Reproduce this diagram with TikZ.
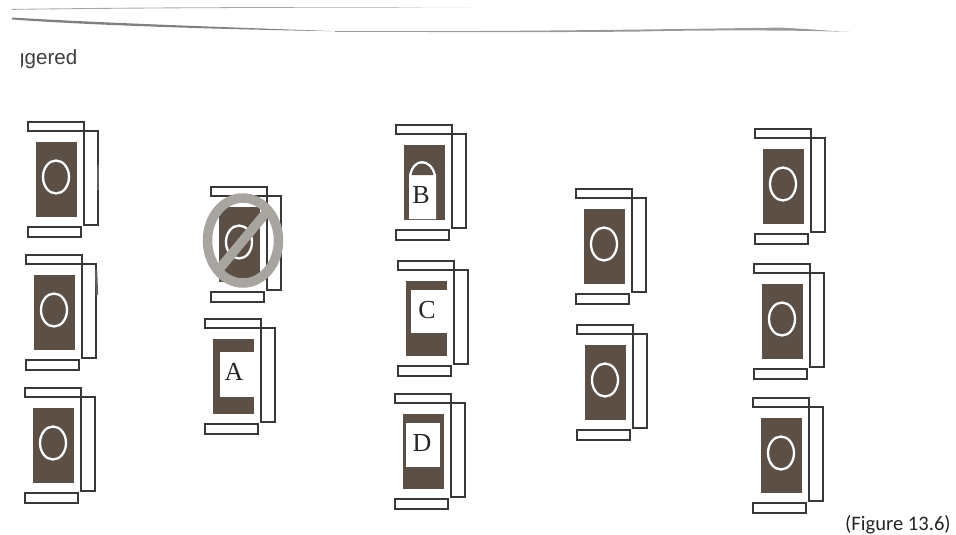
\documentclass[tikz,border=0pt]{standalone}
\usepackage{fontspec}
\setmainfont{Liberation Serif}
\newfontfamily\headfont{Liberation Sans}
\newfontfamily\capfont{Carlito}
\definecolor{inkdark}{HTML}{5B4F46}
\definecolor{inkline}{HTML}{3A3836}
\definecolor{ringgray}{HTML}{A8A4A0}
\tikzset{
  barbox/.style={draw=inkline,line width=1.2pt,fill=none},
  darkbox/.style={fill=inkdark,draw=none},
  ringline/.style={draw=white,line width=2.3pt},
  patchbox/.style={fill=white,draw=none},
  letterlabel/.style={font=\fontsize{26}{26}\selectfont,text=black!85,inner sep=0pt},
  forbid/.style={draw=ringgray,line width=9.5pt},
  streak/.style={fill=black!50,draw=none},
  smudge/.style={draw=inkline!80,line width=2.4pt}
}
\newcommand{\unitbase}[2]{%
  \begin{scope}[shift={(#1,#2)}]
    \fill[darkbox] (8,20) rectangle (49,95);
    \draw[barbox] (0,0) rectangle (56,9);
    \draw[barbox] (56,9) -- (70,9) -- (70,103) -- (56,103) -- (56,9);
    \draw[barbox] (0,105) rectangle (53,115);
  \end{scope}}
\newcommand{\unitring}[2]{%
  \draw[ringline] (#1+28,#2+55) ellipse (13 and 16.5);}
\begin{document}
\begin{tikzpicture}[x=1pt,y=-1pt]
\useasboundingbox (0,0) rectangle (956,535);
\fill[white] (0,0) rectangle (956,535);
% scan streaks
\fill[streak,fill=black!35] (12,9) .. controls (150,7) and (300,6.8) .. (470,7.4) .. controls (300,7.6) and (150,8) .. (12,9.8) -- cycle;
\fill[streak] (12,17.5) .. controls (100,23) and (250,28) .. (335,31.2) .. controls (250,30) and (100,26) .. (12,19.5) -- cycle;
\fill[streak,fill=black!40] (335,31) .. controls (500,32) and (680,29) .. (780,27.6) .. controls (810,29) and (830,31) .. (850,32) .. controls (800,30) and (700,30) .. (640,31.5) .. controls (550,32.5) and (450,32) .. (335,31.8) -- cycle;
% clipped heading
\begin{scope}
  \clip (21,40) rectangle (200,80);
  \node[anchor=base west,inner sep=0pt,font=\headfont\fontsize{20.6}{20.6}\selectfont,text=black!75] (heading) at (13,65) {ggered};
\end{scope}
% column 1
\unitbase{28}{122}\unitring{28}{122}
\unitbase{26}{255}\unitring{26}{255}
\unitbase{25}{388}\unitring{25}{388}
\draw[smudge] (98,165) -- (98,190);
\draw[smudge] (96,270) -- (97,295);
% column 2
\unitbase{211}{187}\unitring{211}{187}
\draw[forbid] (243,240.5) ellipse (35.5 and 42.5);
\draw[forbid,line cap=butt] (216,273) -- (270,208);
\unitbase{205}{319}
\fill[patchbox] (220,352) rectangle (254,397);
\node[letterlabel] (labelA) at (234,372) {A};
% column 3
\unitbase{396}{125}
\fill[patchbox] (409,175) -- (409,219) -- (436,219) -- (436,175) .. controls (434,166) and (428,161) .. (422,161) .. controls (416,161) and (411,166) .. (409,175) -- cycle;
\fill[darkbox] (411.5,175) .. controls (413,168) and (417,163.5) .. (422,163.5) .. controls (427,163.5) and (432,168) .. (433.5,175) -- cycle;
\node[letterlabel] (labelB) at (421,195) {B};
\unitbase{398}{261}
\fill[patchbox] (411,290) rectangle (446.5,333);
\node[letterlabel] (labelC) at (427,310) {C};
\unitbase{395}{394}
\fill[patchbox] (406,423) rectangle (440,467);
\node[letterlabel] (labelD) at (422,443) {D};
% column 4
\unitbase{576}{189}\unitring{576}{189}
\unitbase{577}{325}\unitring{577}{325}
% column 5
\unitbase{755}{129}\unitring{755}{129}
\unitbase{754}{264}\unitring{754}{264}
\unitbase{753}{398}\unitring{753}{398}
% caption
\node[anchor=base west,inner sep=0pt,font=\capfont\fontsize{20.6}{20.6}\selectfont,text=black!85] (caption) at (845,530) {(Figure 13.6)};
\end{tikzpicture}
\end{document}
